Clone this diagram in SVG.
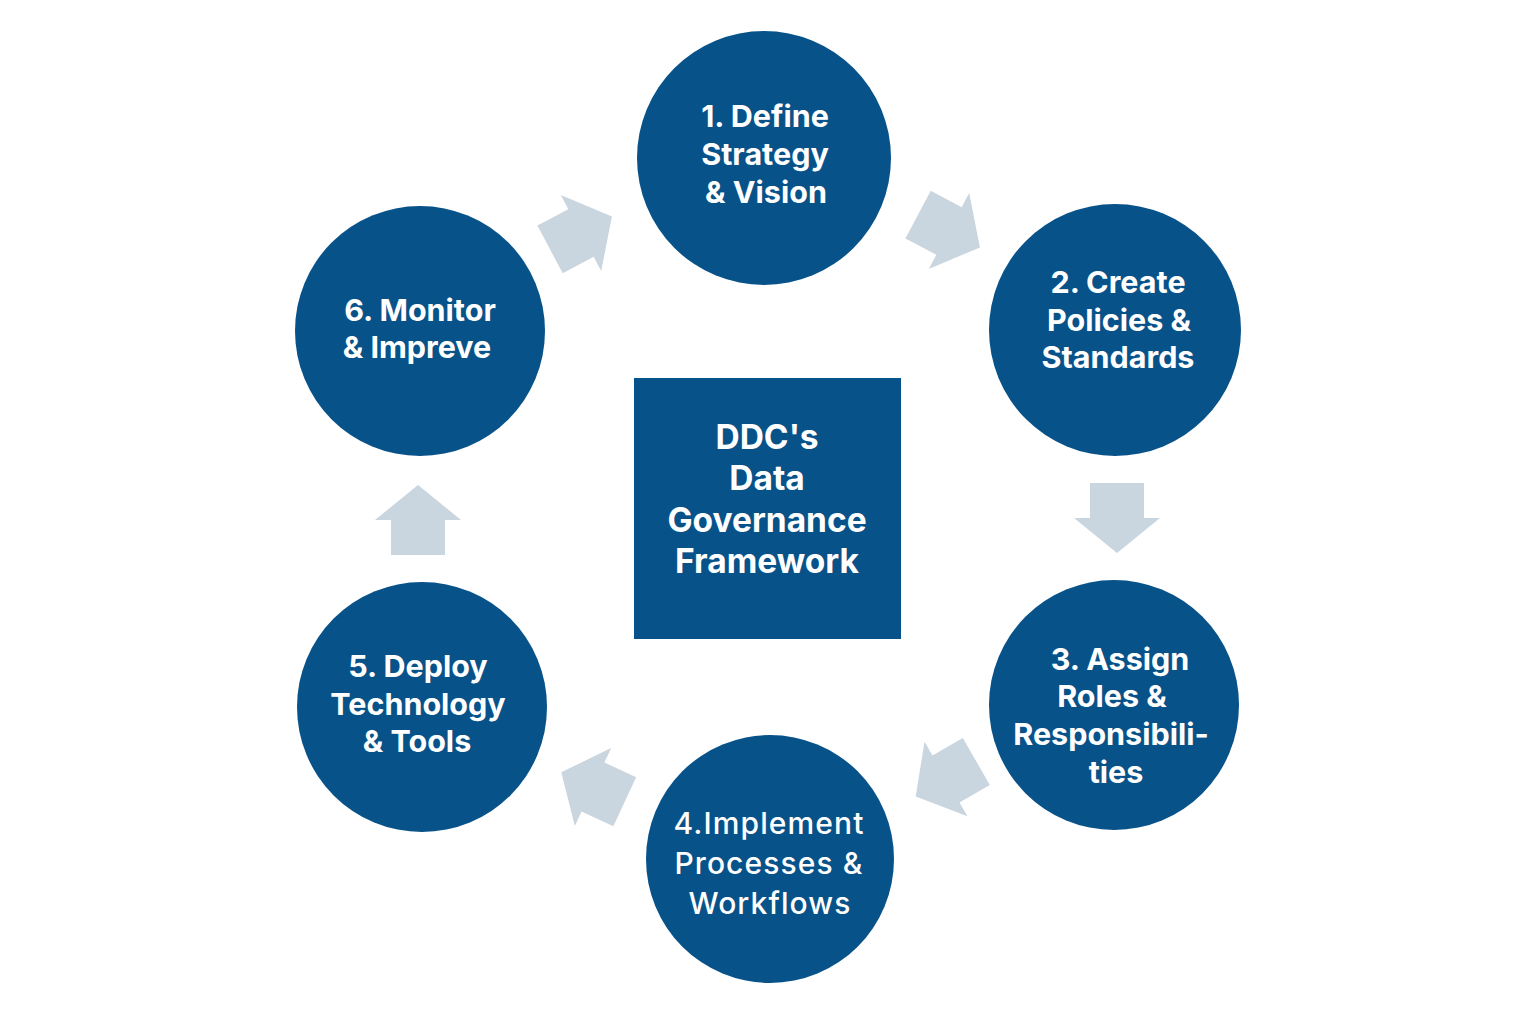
<svg xmlns="http://www.w3.org/2000/svg" width="1536" height="1024" viewBox="0 0 1536 1024">
<defs>
<style>
.node{fill:#08528a}
.arrow{fill:#c9d5df}
.t{font-family:Inter,"Liberation Sans",Arial,sans-serif;font-weight:700;fill:#ffffff;text-anchor:middle;font-size:30.5px}
.tc{font-size:33.5px}
.tn{font-weight:500;letter-spacing:1.1px;font-size:30px}
</style>
<polygon id="arr" points="-35,-27 0,-27 0,-43 35,0 0,43 0,27 -35,27"/>
</defs>
<rect width="1536" height="1024" fill="#ffffff"/>
<g id="connectors" class="arrow">
<use href="#arr" transform="translate(581,233) rotate(-28)"/>
<use href="#arr" transform="translate(949,231) rotate(28)"/>
<use href="#arr" transform="translate(1117,518) rotate(90)"/>
<use href="#arr" transform="translate(946,779) rotate(150)"/>
<use href="#arr" transform="translate(593,787) rotate(205)"/>
<use href="#arr" transform="translate(418,520) rotate(-90)"/>
</g>
<g id="center">
<rect class="node" x="634" y="378" width="267" height="261"/>
<text class="t tc"><tspan x="767" y="449">DDC's</tspan><tspan x="767" y="490">Data</tspan><tspan x="767" y="532">Governance</tspan><tspan x="767" y="573">Framework</tspan></text>
</g>
<g id="step1">
<circle class="node" cx="764" cy="158" r="127"/>
<text class="t"><tspan x="765" y="127">1. Define</tspan><tspan x="765" y="165">Strategy</tspan><tspan x="766" y="203">&amp; Vision</tspan></text>
</g>
<g id="step2">
<circle class="node" cx="1115" cy="330" r="126"/>
<text class="t"><tspan x="1118" y="293">2. Create</tspan><tspan x="1119" y="331">Policies &amp;</tspan><tspan x="1118" y="368">Standards</tspan></text>
</g>
<g id="step3">
<circle class="node" cx="1114" cy="705" r="125"/>
<text class="t"><tspan x="1120" y="670">3. Assign</tspan><tspan x="1112" y="707">Roles &amp;</tspan><tspan x="1111" y="745">Responsibili-</tspan><tspan x="1116" y="783">ties</tspan></text>
</g>
<g id="step4">
<circle class="node" cx="770" cy="859" r="124"/>
<text class="t tn"><tspan x="769" y="834">4.Implement</tspan><tspan x="769" y="874">Processes &amp;</tspan><tspan x="770" y="914">Workflows</tspan></text>
</g>
<g id="step5">
<circle class="node" cx="422" cy="707" r="125"/>
<text class="t"><tspan x="418" y="677">5. Deploy</tspan><tspan x="418" y="715">Technology</tspan><tspan x="417" y="752">&amp; Tools</tspan></text>
</g>
<g id="step6">
<circle class="node" cx="420" cy="331" r="125"/>
<text class="t"><tspan x="420" y="321">6. Monitor</tspan><tspan x="417" y="358">&amp; Impreve</tspan></text>
</g>
</svg>
